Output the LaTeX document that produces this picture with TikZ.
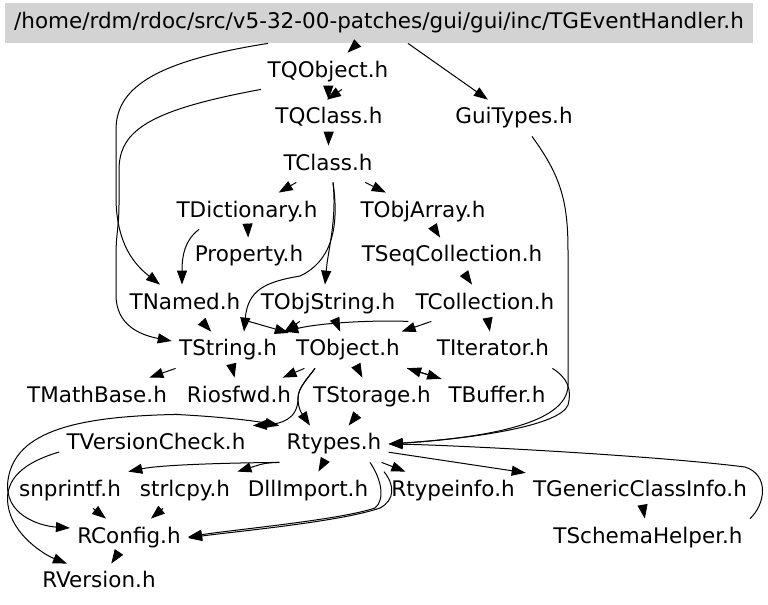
\documentclass[tikz,border=0pt]{standalone}
\usepackage{fontspec}
\setmainfont{DejaVu Sans}
\usepackage{tikz}
\usetikzlibrary{arrows.meta,calc}
\definecolor{rootgray}{HTML}{D3D3D3}

\begin{document}
\begin{tikzpicture}[x=0.5pt,y=-0.5pt,>={Triangle[length=7pt,width=5pt]},
  hdr/.style={font=\fontsize{10.75}{13}\selectfont,inner xsep=3.5pt,inner ysep=3.5pt,text height=8.5pt,text depth=2.5pt},
  dep/.style={->,line width=0.5pt}]
  \useasboundingbox (0,0) rectangle (768,605);
  % header files
  \node[hdr,fill=rootgray,minimum width=374pt,minimum height=20pt] (root) at (379,23) {/home/rdm/rdoc/src/v5-32-00-patches/gui/gui/inc/TGEventHandler.h};
  \node[hdr] (qobj) at (328,71) {TQObject.h};
  \node[hdr] (qcls) at (329,118) {TQClass.h};
  \node[hdr] (guit) at (514,118) {GuiTypes.h};
  \node[hdr] (cls) at (328,164) {TClass.h};
  \node[hdr] (dict) at (247,211) {TDictionary.h};
  \node[hdr] (oarr) at (423,211) {TObjArray.h};
  \node[hdr] (prop) at (249,256) {Property.h};
  \node[hdr] (seqc) at (452,256) {TSeqCollection.h};
  \node[hdr] (named) at (185,303) {TNamed.h};
  \node[hdr] (ostr) at (328,303) {TObjString.h};
  \node[hdr] (coll) at (485,303) {TCollection.h};
  \node[hdr] (str) at (228,350) {TString.h};
  \node[hdr] (obj) at (348,350) {TObject.h};
  \node[hdr] (iter) at (493,350) {TIterator.h};
  \node[hdr] (mathb) at (97,396) {TMathBase.h};
  \node[hdr] (iosf) at (239,396) {Riosfwd.h};
  \node[hdr] (stor) at (372,396) {TStorage.h};
  \node[hdr] (buf) at (497,396) {TBuffer.h};
  \node[hdr] (vchk) at (156,444) {TVersionCheck.h};
  \node[hdr] (rtyp) at (334,444) {Rtypes.h};
  \node[hdr] (snpr) at (70,490) {snprintf.h};
  \node[hdr] (strl) at (185,490) {strlcpy.h};
  \node[hdr] (dll) at (308,490) {DllImport.h};
  \node[hdr] (rtinfo) at (453,490) {Rtypeinfo.h};
  \node[hdr] (gci) at (640,490) {TGenericClassInfo.h};
  \node[hdr] (conf) at (129,537) {RConfig.h};
  \node[hdr] (schema) at (648,537) {TSchemaHelper.h};
  \node[hdr] (rver) at (99,582) {RVersion.h};
  % include edges
  \draw[dep] (root) -- (qobj);
  \draw[dep] (root) -- (guit);
  \draw[dep] ($(root.south)+(-111,0)$) .. controls (150,62) and (116,90) .. (116,130) -- (116,200) .. controls (117,245) and (135,265) .. ($(named.north)+(-25,0)$);
  \draw[dep] ($(qobj.south)+(-67,0)$) .. controls (150,110) and (119,130) .. (119,170) -- (119,205) .. controls (119,225) and (116,235) .. (116,255) -- (116,295) .. controls (116,325) and (140,335) .. ($(str.west)+(0,-9)$);
  \draw[dep] (qobj) -- (qcls);
  \draw[dep] ($(qobj.south)+(14,0)$) -- ($(qcls.north)+(-2,0)$);
  \draw[dep] (qcls) -- (cls);
  \draw[dep] (cls) -- (dict);
  \draw[dep] (cls) -- (oarr);
  \draw[dep] ($(cls.south)+(5,0)$) .. controls (337,220) and (328,250) .. ($(ostr.north)+(-3,0)$);
  \draw[dep] ($(cls.south)+(5,0)$) .. controls (340,230) and (330,262) .. (300,276) .. controls (265,282) and (248,290) .. ($(str.north)+(16,0)$);
  \draw[dep] (dict) -- (prop);
  \draw[dep] ($(dict.south)+(-48,0)$) .. controls (185,240) and (182,255) .. ($(named.north)+(-3,0)$);
  \draw[dep] (oarr) -- (seqc);
  \draw[dep] (seqc) -- (coll);
  \draw[dep] (coll) -- (iter);
  \draw[dep] (coll) -- (obj);
  \draw[dep] (coll.south west) .. controls (370,320) and (320,323) .. (str.north east);
  \draw[dep] (named) -- (str);
  \draw[dep] (named) -- (obj);
  \draw[dep] (ostr) -- (str.north east);
  \draw[dep] (ostr) -- (obj);
  \draw[dep] (str) -- (mathb);
  \draw[dep] (str) -- (iosf);
  \draw[dep] (obj) -- (iosf);
  \draw[dep] (obj) -- (stor);
  \draw[dep] (obj) -- (buf);
  \draw[dep] (buf) -- (obj);
  \draw[dep] ($(obj.south)+(-33,0)$) .. controls (308,378) and (298,388) .. (298,398) .. controls (298,410) and (303,415) .. ($(rtyp.north)+(-24,0)$);
  \draw[dep] ($(obj.south)+(-33,0)$) .. controls (308,378) and (298,388) .. (298,398) .. controls (298,420) and (280,424) .. (vchk.north east);
  \draw[dep] (mathb.south east) .. controls (210,416) and (250,420) .. (rtyp.north west);
  \draw[dep] (iosf.south west) .. controls (80,416) and (15,430) .. (8,480) .. controls (3,515) and (40,526) .. ($(conf.west)+(0,-9)$);
  \draw[dep] ($(vchk.west)+(0,8)$) .. controls (15,465) and (5,485) .. (8,505) .. controls (12,535) and (45,555) .. ($(rver.north)+(-32,0)$);
  \draw[dep] (stor) -- (rtyp);
  \draw[dep] (rtyp.south west) .. controls (220,463) and (160,465) .. (snpr.north east);
  \draw[dep] (rtyp.south west) .. controls (265,463) .. (strl.north east);
  \draw[dep] (rtyp) -- (dll);
  \draw[dep] (rtyp) -- (rtinfo);
  \draw[dep] (rtyp) -- (gci);
  \draw[dep] ($(rtyp.south)+(36,0)$) .. controls (382,480) and (385,500) .. (375,508) .. controls (340,520) and (230,530) .. (conf.east);
  \draw[dep] (rtinfo.north west) .. controls (395,485) and (395,500) .. (380,508) .. controls (340,522) and (230,532) .. ($(conf.east)+(0,1)$);
  \draw[dep] (snpr) -- (conf);
  \draw[dep] (strl) -- (conf);
  \draw[dep] (conf) -- (rver);
  \draw[dep] (gci) -- (schema);
  \draw[dep] (schema.north east) .. controls (765,505) and (770,475) .. (745,467) .. controls (650,455) and (450,445) .. (rtyp.east);
  \draw[dep] ($(guit.south)+(18,0)$) .. controls (560,175) and (568,200) .. (568,250) -- (568,385) .. controls (568,425) and (480,438) .. (rtyp.east);
  \draw[dep] ($(iter.south east)+(-4,0)$) .. controls (568,378) and (572,390) .. (568,405) .. controls (560,425) and (480,438) .. (rtyp.east);
\end{tikzpicture}
\end{document}
